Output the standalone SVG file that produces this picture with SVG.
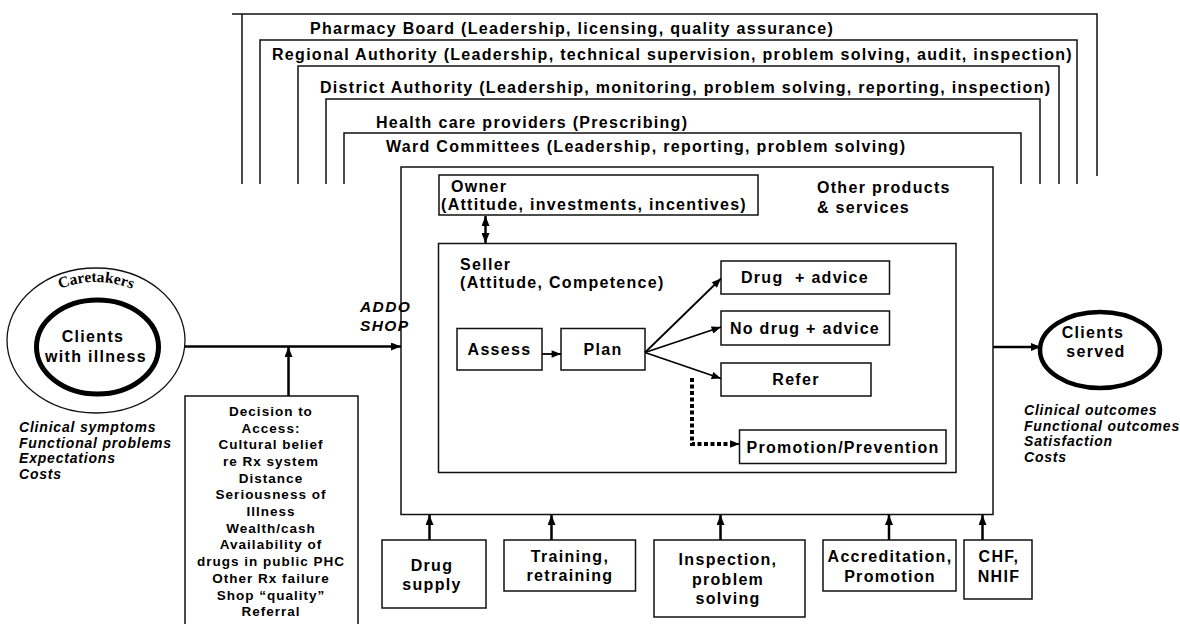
<svg xmlns="http://www.w3.org/2000/svg" width="1180" height="624" viewBox="0 0 1180 624">
<defs>
  <marker id="ah" viewBox="0 0 10 8" refX="10" refY="4" markerWidth="10" markerHeight="8" markerUnits="userSpaceOnUse" orient="auto-start-reverse">
    <path d="M0,0 L10,4 L0,8 z" fill="#000"/>
  </marker>
  <marker id="ahs" viewBox="0 0 10 8" refX="10" refY="4" markerWidth="10" markerHeight="7.5" markerUnits="userSpaceOnUse" orient="auto-start-reverse">
    <path d="M0,0 L10,4 L0,8 z" fill="#000"/>
  </marker>
  <path id="careArc" d="M20,341 A76,59 0 0 1 172,341"/>
</defs>
<style>
  text { font-family: "Liberation Sans", Arial, sans-serif; font-weight: bold; font-size: 16px; letter-spacing: 1.3px; fill: #000; }
  .it { font-style: italic; font-size: 14px; letter-spacing: 0.8px; }
  .shop { font-style: italic; font-size: 15.5px; letter-spacing: 1.4px; }
  .sm { font-size: 13.5px; letter-spacing: 1px; text-anchor: middle; }
  .c { text-anchor: middle; }
  .serif { font-family: "Liberation Serif", "Times New Roman", serif; font-size: 15.5px; letter-spacing: 0; }
  .frame { fill: none; stroke: #111; stroke-width: 1.5; }
  .box { fill: #fff; stroke: #111; stroke-width: 1.5; }
  .conn { fill: none; stroke: #000; stroke-width: 2.5; marker-end: url(#ah); }
  .thin { fill: none; stroke: #000; stroke-width: 1.8; marker-end: url(#ahs); }
  .dot { fill: none; stroke: #000; stroke-width: 4; stroke-dasharray: 4 2.5; }
</style>

<!-- oversight layers, outermost first -->
<g id="pharmacy-board">
  <path class="frame" d="M232,14 H1097 V176 M242,14 V184"/>
  <text x="310" y="34">Pharmacy Board (Leadership, licensing, quality assurance)</text>
</g>
<g id="regional-authority">
  <path class="frame" d="M260,184 V40 H1077 V184"/>
  <text x="272" y="60">Regional Authority (Leadership, technical supervision, problem solving, audit, inspection)</text>
</g>
<g id="district-authority">
  <path class="frame" d="M298,184 V66 H1059 V184"/>
  <text x="320" y="93">District Authority (Leadership, monitoring, problem solving, reporting, inspection)</text>
</g>
<g id="health-care-providers">
  <path class="frame" d="M326,184 V99 H1040 V184"/>
  <text x="376" y="128">Health care providers (Prescribing)</text>
</g>
<g id="ward-committees">
  <path class="frame" d="M344,184 V133 H1021 V184"/>
  <text x="386" y="152">Ward Committees (Leadership, reporting, problem solving)</text>
</g>

<!-- the shop -->
<g id="addo-shop">
  <rect class="box" x="401" y="167" width="592" height="347.5"/>
  <text x="817" y="193">Other products</text>
  <text x="817" y="213">&amp; services</text>
</g>
<g id="addo-label">
  <text class="shop" x="360" y="312">ADDO</text>
  <text class="shop" x="360" y="331">SHOP</text>
</g>
<g id="owner">
  <rect class="box" x="439" y="175" width="319" height="40"/>
  <text x="451" y="192">Owner</text>
  <text x="441" y="210">(Attitude, investments, incentives)</text>
</g>
<g id="seller">
  <rect class="box" x="438.5" y="243.5" width="517.5" height="229"/>
  <text x="460" y="270">Seller</text>
  <text x="460" y="288">(Attitude, Competence)</text>
</g>
<g id="assess">
  <rect class="box" x="457" y="328.5" width="85" height="41.5"/>
  <text class="c" x="499.5" y="355">Assess</text>
</g>
<g id="plan">
  <rect class="box" x="561" y="328.5" width="84" height="41.5"/>
  <text class="c" x="603" y="355">Plan</text>
</g>
<g id="drug-advice">
  <rect class="box" x="721" y="261" width="168.5" height="33"/>
  <text class="c" x="805" y="283" xml:space="preserve">Drug  + advice</text>
</g>
<g id="no-drug-advice">
  <rect class="box" x="721" y="311" width="168.5" height="34"/>
  <text class="c" x="805" y="334">No drug + advice</text>
</g>
<g id="refer">
  <rect class="box" x="721" y="363" width="150" height="33"/>
  <text class="c" x="796" y="385">Refer</text>
</g>
<g id="promotion-prevention">
  <rect class="box" x="739.5" y="430" width="206.5" height="33.5"/>
  <text class="c" x="843" y="453">Promotion/Prevention</text>
</g>

<!-- clients -->
<g id="clients-with-illness">
  <ellipse cx="96" cy="340.5" rx="89" ry="72.5" fill="#fff" stroke="#111" stroke-width="1.3"/>
  <ellipse cx="97.5" cy="347" rx="61" ry="47" fill="#fff" stroke="#000" stroke-width="5"/>
  <text class="serif"><textPath href="#careArc" startOffset="50%" text-anchor="middle">Caretakers</textPath></text>
  <text class="c" x="93" y="342">Clients</text>
  <text class="c" x="96" y="362">with illness</text>
  <text class="it" x="19" y="432">Clinical symptoms</text>
  <text class="it" x="19" y="447.5">Functional problems</text>
  <text class="it" x="19" y="463">Expectations</text>
  <text class="it" x="19" y="478.5">Costs</text>
</g>
<g id="clients-served">
  <ellipse cx="1100" cy="350" rx="60" ry="38" fill="#fff" stroke="#000" stroke-width="4.5"/>
  <text class="c" x="1093" y="338">Clients</text>
  <text class="c" x="1096" y="357">served</text>
  <text class="it" x="1024" y="415">Clinical outcomes</text>
  <text class="it" x="1024" y="430.5">Functional outcomes</text>
  <text class="it" x="1024" y="446">Satisfaction</text>
  <text class="it" x="1024" y="461.5">Costs</text>
</g>

<!-- access decision -->
<g id="decision-to-access">
  <rect class="box" x="185" y="396" width="173" height="240"/>
  <text class="sm" x="271" y="416">Decision to</text>
  <text class="sm" x="271" y="432.5">Access:</text>
  <text class="sm" x="271" y="449.2">Cultural belief</text>
  <text class="sm" x="271" y="465.9">re Rx system</text>
  <text class="sm" x="271" y="482.6">Distance</text>
  <text class="sm" x="271" y="499.3">Seriousness of</text>
  <text class="sm" x="271" y="516">Illness</text>
  <text class="sm" x="271" y="532.7">Wealth/cash</text>
  <text class="sm" x="271" y="549.4">Availability of</text>
  <text class="sm" x="271" y="566.1">drugs in public PHC</text>
  <text class="sm" x="271" y="582.8">Other Rx failure</text>
  <text class="sm" x="271" y="599.5">Shop “quality”</text>
  <text class="sm" x="271" y="616.2">Referral</text>
</g>

<!-- inputs below the shop -->
<g id="drug-supply">
  <rect class="box" x="382" y="540" width="104" height="68"/>
  <text class="c" x="432" y="571">Drug</text>
  <text class="c" x="432" y="590">supply</text>
</g>
<g id="training">
  <rect class="box" x="504" y="540" width="131.5" height="51"/>
  <text class="c" x="570" y="562">Training,</text>
  <text class="c" x="570" y="581">retraining</text>
</g>
<g id="inspection">
  <rect class="box" x="654" y="540" width="151" height="77"/>
  <text class="c" x="728" y="565">Inspection,</text>
  <text class="c" x="728" y="585">problem</text>
  <text class="c" x="728" y="604">solving</text>
</g>
<g id="accreditation">
  <rect class="box" x="823" y="540" width="133" height="51"/>
  <text class="c" x="890" y="562">Accreditation,</text>
  <text class="c" x="890" y="582">Promotion</text>
</g>
<g id="chf-nhif">
  <rect class="box" x="964" y="540" width="68" height="59"/>
  <text class="c" x="999" y="562">CHF,</text>
  <text class="c" x="999" y="582">NHIF</text>
</g>

<!-- connectors -->
<g id="connectors">
  <path class="conn" d="M185,346.5 H401"/>
  <path class="conn" d="M288.5,396 V347"/>
  <path class="conn" d="M993,347 H1041"/>
  <path class="conn" d="M485.5,216 V243" style="marker-start:url(#ah)"/>
  <path class="thin" d="M542,354 H561"/>
  <path class="thin" d="M645,352.5 L721,278.5"/>
  <path class="thin" d="M645,352.5 L721,327"/>
  <path class="thin" d="M645,352.5 L721,378.5"/>
  <path class="dot" d="M692,378 V444 H731"/>
  <path class="thin" d="M730,444 H739.5"/>
  <path class="conn" d="M429.5,540 V515"/>
  <path class="conn" d="M551.5,540 V515"/>
  <path class="conn" d="M720.5,540 V515"/>
  <path class="conn" d="M889,540 V515"/>
  <path class="conn" d="M982.5,540 V515"/>
</g>
</svg>
